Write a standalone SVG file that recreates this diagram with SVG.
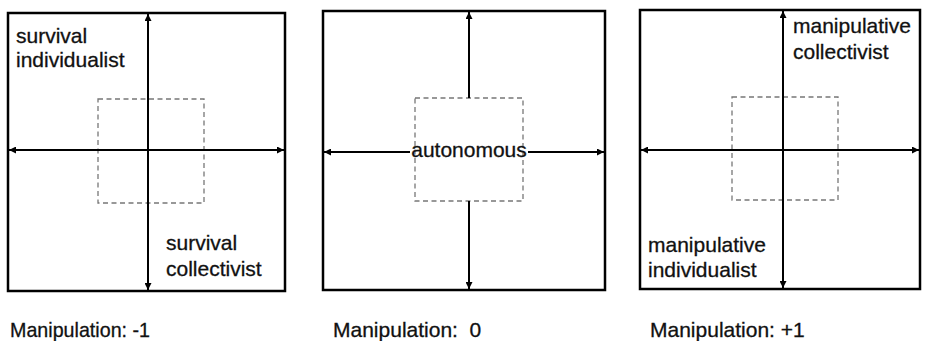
<svg xmlns="http://www.w3.org/2000/svg" width="926" height="341" viewBox="0 0 926 341">
<style>
.box{fill:none;stroke:#000;stroke-width:2.5}
.ax{fill:none;stroke:#000;stroke-width:2}
.dash{fill:none;stroke:#777;stroke-width:1.3;stroke-dasharray:5 3.5}
text{font-family:"Liberation Sans",Arial,sans-serif;font-size:21px;fill:#111;stroke:#111;stroke-width:0.3}
</style>
<defs>
<marker id="ah" viewBox="0 0 8 8" refX="8" refY="4" markerWidth="7" markerHeight="7" markerUnits="userSpaceOnUse" orient="auto">
<path d="M0,0 L8,4 L0,8 Z" fill="#000"/>
</marker>
</defs>
<rect width="926" height="341" fill="#fff"/>
<g id="panel1">
<rect class="box" x="8" y="13" width="277" height="278"/>
<rect class="dash" x="98" y="99" width="106" height="104"/>
<text x="16" y="43">survival</text>
<text x="16" y="67">individualist</text>
<text x="166" y="250">survival</text>
<text x="166" y="276">collectivist</text>
<text x="10" y="337" textLength="140" lengthAdjust="spacingAndGlyphs">Manipulation: -1</text>
</g>
<g id="panel2">
<rect class="box" x="323" y="11" width="282" height="279"/>
<rect class="dash" x="415" y="98" width="108" height="103"/>
<text x="469" y="157" text-anchor="middle">autonomous</text>
<text x="333" y="337" xml:space="preserve">Manipulation:  0</text>
</g>
<g id="panel3">
<rect class="box" x="640" y="10" width="280" height="279"/>
<rect class="dash" x="732" y="97" width="106" height="103"/>
<text x="793" y="33">manipulative</text>
<text x="793" y="59">collectivist</text>
<text x="648" y="252">manipulative</text>
<text x="648" y="277">individualist</text>
<text x="650" y="337">Manipulation: +1</text>
</g>
<g id="connectors">
<line class="ax" x1="148" y1="150" x2="148" y2="14" marker-end="url(#ah)"/>
<line class="ax" x1="148" y1="150" x2="148" y2="290" marker-end="url(#ah)"/>
<line class="ax" x1="148" y1="150" x2="9" y2="150" marker-end="url(#ah)"/>
<line class="ax" x1="148" y1="150" x2="284" y2="150" marker-end="url(#ah)"/>
<line class="ax" x1="469" y1="98" x2="469" y2="12" marker-end="url(#ah)"/>
<line class="ax" x1="469" y1="201" x2="469" y2="289" marker-end="url(#ah)"/>
<line class="ax" x1="410" y1="152" x2="324" y2="152" marker-end="url(#ah)"/>
<line class="ax" x1="528" y1="152" x2="604" y2="152" marker-end="url(#ah)"/>
<line class="ax" x1="783" y1="150" x2="783" y2="11" marker-end="url(#ah)"/>
<line class="ax" x1="783" y1="150" x2="783" y2="288" marker-end="url(#ah)"/>
<line class="ax" x1="783" y1="150" x2="641" y2="150" marker-end="url(#ah)"/>
<line class="ax" x1="783" y1="150" x2="919" y2="150" marker-end="url(#ah)"/>
</g>
</svg>
